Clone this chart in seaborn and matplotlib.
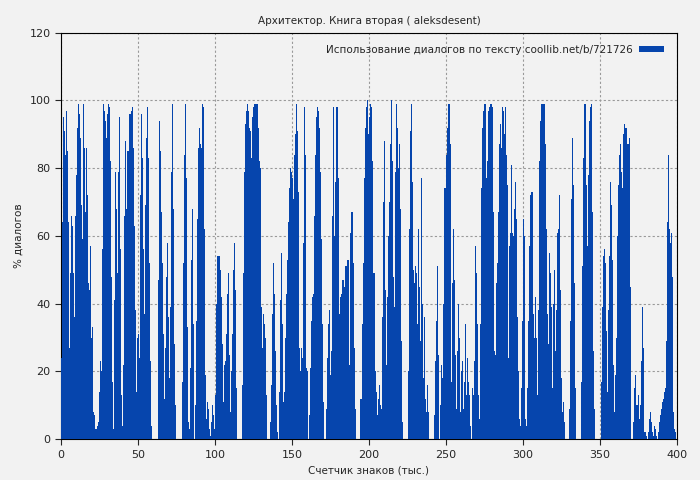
import numpy as np
import matplotlib
matplotlib.use("Agg")
import matplotlib.pyplot as plt
import seaborn as sns

title = "Архитектор. Книга вторая ( aleksdesent)"
legend_label = "Использование диалогов по тексту coollib.net/b/721726"
xlabel = "Счетчик знаков (тыс.)"
ylabel = "% диалогов"

seg1 = [24,64,95,91,84,97,85,64,27,49,66,63,49,36,66,78,92,99,96,89,69,59,99,86,67,86,72,46,44,57,30,33,8,7,3,3,4,5,14,23,20,56,99,97,94,89,96,99,98,82,48,17,3,41,79,68,49,79,95,56,13,4,22,66,88,68,85,85,96,96,97,98,86,63,38,14,30,31,24,72,96,83,56,37,69,89,98,83,52,23,4,0,0,0,0,0,0,47,94,85,67,52,31,12,27,48,58,36,18,39,79,99,68,28,10,0,0,0,0,0,0,17,52,84,99,77,33,5,3,21,53,68,34,0,10,35,65,86,92,87,86,99,98,62,19,6,11,9,3,1,5,10,7,3,13,40,54]
seg2 = [54,54,50,42,28,11,22,23,31,43,49,25,8,20,31,50,58,44,15,0,0,0,0,0,16,49,79,93,97,99,97,92,91,83,95,98,99,99,99,99,92,82,80,39,27,37,34,30,13,0,0,0,5,16,37,52,43,26,10,2,0,14,41,55,34,11,14,30,43,53,64,74,80,79,77,71,84,90,99,91,73,27,20,27,24,58,98,84,21,20,0,7,21,35,42,43,66,84,95,98,97,92,79,59,34,11,0,0,9,24,34,38,19,26,66,98,60,76,98,77,26,37,42,43,47,44,45,51,39,53,19,22,61,67,52,27,9,0,0,0,0,0,12,34,52,77,92,98,100,90,95,99,98,82,49]
seg3 = [49,20,14,7,12,16,10,9,36,70,88,44,22,42,60,70,87,100,82,48,39,79,99,92,80,87,68,29,5,0,0,0,0,0,20,62,91,99,76,50,46,51,49,34,62,45,29,77,40,18,36,12,8,16,8,0,0,0,0,0,7,23,35,51,25,0,10,22,18,40,74,74,84,92,99,99,87,17,46,62,47,25,9,26,40,30,8,20,23,9,17,34,13,24,17,13,4,0,15,13,23,57,49,34,13,6,34,74,92,97,99,99,77,82,97,98,99,99,98,67,26,25,46,52,67,87,93,86,98,97,90,98,84,75,24,57,61,81,61,60,68,76,65,36,20,6,4,15,35,65,60]
seg4 = [6,4,15,35,57,72,73,73,37,30,42,30,13,38,82,94,99,99,99,99,87,62,37,28,55,49,39,15,40,50,26,38,61,62,72,44,18,8,11,5,0,0,0,0,9,35,71,89,75,46,15,0,0,0,0,0,17,51,83,99,99,75,57,78,94,98,99,67,26,9,0,0,0,0,0,0,17,39,54,56,52,32,14,38,54,76,69,53,22,8,19,30,60,75,84,87,79,74,90,93,92,92,87,87,89,45,0,0,5,15,19,10,10,13,6,10,23,39,27,2,2,1,0,2,6,8,5,2,1,4,3,1,0,2,5,7,9,11,12,14,15,29,64,84,62,58,61,48,8,3,2]

values = np.array(seg1 + seg2 + seg3 + seg4, dtype=float)
n = len(values)
step = 399.5 / n
xpos = np.arange(n) * step

sns.set_style("whitegrid")
plt.rcParams['font.family'] = ['DejaVu Sans']
bg = "#f2f2f2"
fig, ax = plt.subplots(figsize=(7, 4.8), dpi=100)
fig.patch.set_facecolor(bg)
ax.set_facecolor(bg)
fig.subplots_adjust(left=0.087, right=0.967, top=0.932, bottom=0.085)

ax.bar(xpos, values, width=step * 1.05, align="edge", color="#0645ad",
       linewidth=0, label=legend_label, zorder=3)

ax.set_xlim(0, 400)
ax.set_ylim(0, 120)
ax.set_xticks(range(0, 401, 50))
ax.set_yticks(range(0, 121, 20))
ax.grid(True, color="#999999", linestyle=(0, (2, 2)), linewidth=0.8, zorder=0)
for s in ax.spines.values():
    s.set_color("black")
    s.set_linewidth(0.8)
ax.tick_params(labelsize=8, length=4, direction="out", left=True, bottom=True)
ax.set_title(title, fontsize=7.5)
ax.set_xlabel(xlabel, fontsize=7.5)
ax.set_ylabel(ylabel, fontsize=7.5)
leg = ax.legend(loc="upper right", frameon=False, fontsize=7.5, markerfirst=False,
                handlelength=2.4, handleheight=0.5, handletextpad=0.6,
                borderaxespad=0.8)
fig.savefig("out.png", dpi=100, facecolor=bg)
